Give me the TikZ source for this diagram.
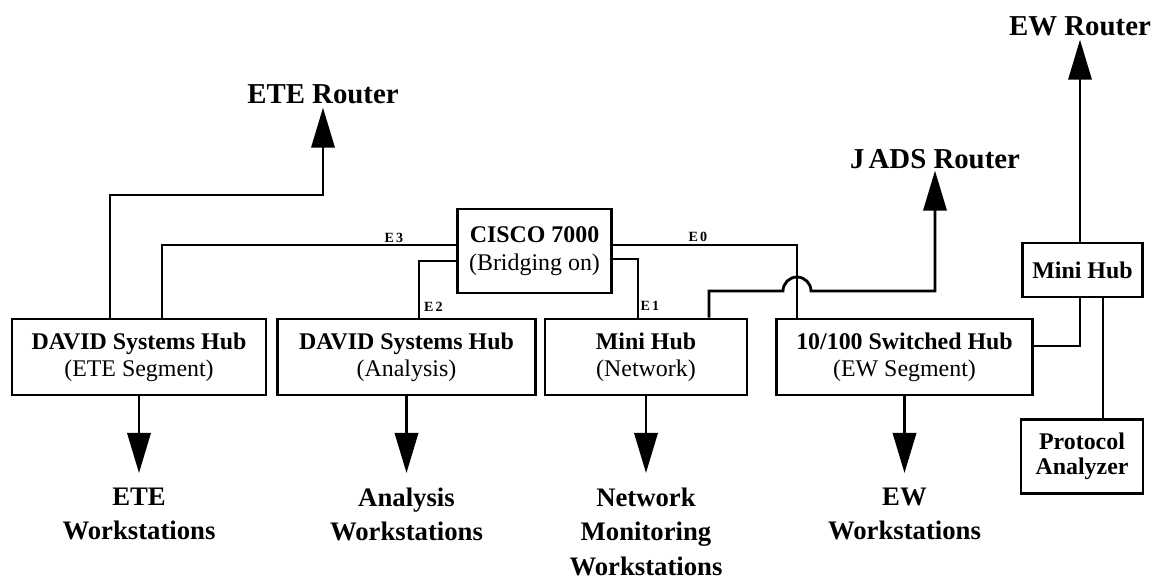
\documentclass[tikz,border=0pt]{standalone}
\usepackage{fontspec}
\setmainfont{Liberation Serif}
\usetikzlibrary{arrows.meta}

\tikzset{
  hubbox/.style={draw, rectangle, line width=2pt, align=center, inner sep=0pt, minimum height=1.9cm, font=\fontsize{17}{19.5}\selectfont},
  wire/.style={line width=2pt},
  feed/.style={wire, -{Triangle[length=1cm, width=0.58cm]}},
  port/.style={font=\fontsize{10}{10}\selectfont\bfseries, inner sep=0pt},
  router/.style={font=\fontsize{20.5}{24}\selectfont\bfseries, inner sep=0pt, anchor=base},
  wsgroup/.style={font=\fontsize{19}{24.3}\selectfont\bfseries, align=center, inner sep=0pt, anchor=north}
}

\begin{document}
\begin{tikzpicture}[x=0.025cm, y=-0.025cm]
    \useasboundingbox (0,0) rectangle (1152,580);
    % Hubs
    \node[hubbox, minimum width=6.35cm] (eteHub) at (139,357) {\textbf{DAVID Systems Hub}\\(ETE Segment)};
    \node[hubbox, minimum width=6.43cm] (anaHub) at (406.5,357) {\textbf{DAVID Systems Hub}\\(Analysis)};
    \node[hubbox, minimum width=5.05cm] (netHub) at (646,357) {\textbf{Mini Hub}\\(Network)};
    \node[hubbox, minimum width=6.38cm] (ewHub) at (904.5,357) {\textbf{10/100 Switched Hub}\\(EW Segment)};
    % Router
    \node[hubbox, minimum width=3.83cm, minimum height=2.1cm] (cisco) at (534.5,251) {\textbf{CISCO 7000}\\(Bridging on)};
    % EW side
    \node[hubbox, minimum width=2.98cm, minimum height=1.35cm, font=\fontsize{17}{19.5}\selectfont\bfseries] (miniHub) at (1082.5,270) {Mini Hub};
    \node[hubbox, minimum width=3.05cm, minimum height=1.83cm, font=\fontsize{17}{18}\selectfont\bfseries] (protoBox) at (1082,456.5) {Protocol\\Analyzer};
    % Outside routers
    \node[router] (eteRouter) at (323,103) {ETE Router};
    \node[router] (jadsRouter) at (935,168) {J\kern3pt ADS Router};
    \node[router] (ewRouter) at (1080,35) {EW Router};
    % Workstations
    \node[wsgroup] (eteWs) at (eteHub.south |- 0,488) {ETE\\Workstations};
    \node[wsgroup] (anaWs) at (anaHub.south |- 0,488) {Analysis\\Workstations};
    \node[wsgroup] (netWs) at (netHub.south |- 0,488) {Network\\Monitoring\\Workstations};
    \node[wsgroup] (ewWs) at (ewHub.south |- 0,488) {EW\\Workstations};
    % Ports
    \node[port] (portE3) at (394,237.5) {E\kern1.5pt 3};
    \node[port] (portE2) at (433.5,306.5) {E\kern1.5pt 2};
    \node[port] (portE1) at (650,305.5) {E\kern1.5pt 1};
    \node[port] (portE0) at (698,236.5) {E\kern1.5pt 0};

    % Router links
    \draw[wire] (cisco.west |- 0,245) -| (eteHub.north -| 162,0);
    \draw[wire] (cisco.west |- 0,261) -| (anaHub.north -| 419,0);
    \draw[wire] (cisco.east |- 0,259) -| (netHub.north -| 638,0);
    \draw[wire] (cisco.east |- 0,245) -| (ewHub.north -| 797,0);
    % Uplinks
    \draw[feed, shorten >=0.1cm] (eteHub.north -| 110,0) |- (eteRouter.south |- 0,195) -- (eteRouter.south);
    \draw[feed, shorten >=0.05cm] (netHub.north -| 709,0) |- (783,291) arc[start angle=180, end angle=360, radius=14] -| (jadsRouter.south);
    \draw[wire] (ewHub.east |- 0,346) -| (miniHub.south -| 1080,0);
    \draw[feed, shorten >=0.1cm] (miniHub.north -| ewRouter.south) -- (ewRouter.south);
    \draw[wire] (miniHub.south -| 1103,0) -- (protoBox.north -| 1103,0);
    % Down to workstations
    \draw[feed, shorten >=0.375cm] (eteHub.south) -- (eteWs.north);
    \draw[feed, shorten >=0.375cm] (anaHub.south) -- (anaWs.north);
    \draw[feed, shorten >=0.375cm] (netHub.south) -- (netWs.north);
    \draw[feed, shorten >=0.375cm] (ewHub.south) -- (ewWs.north);
\end{tikzpicture}
\end{document}
